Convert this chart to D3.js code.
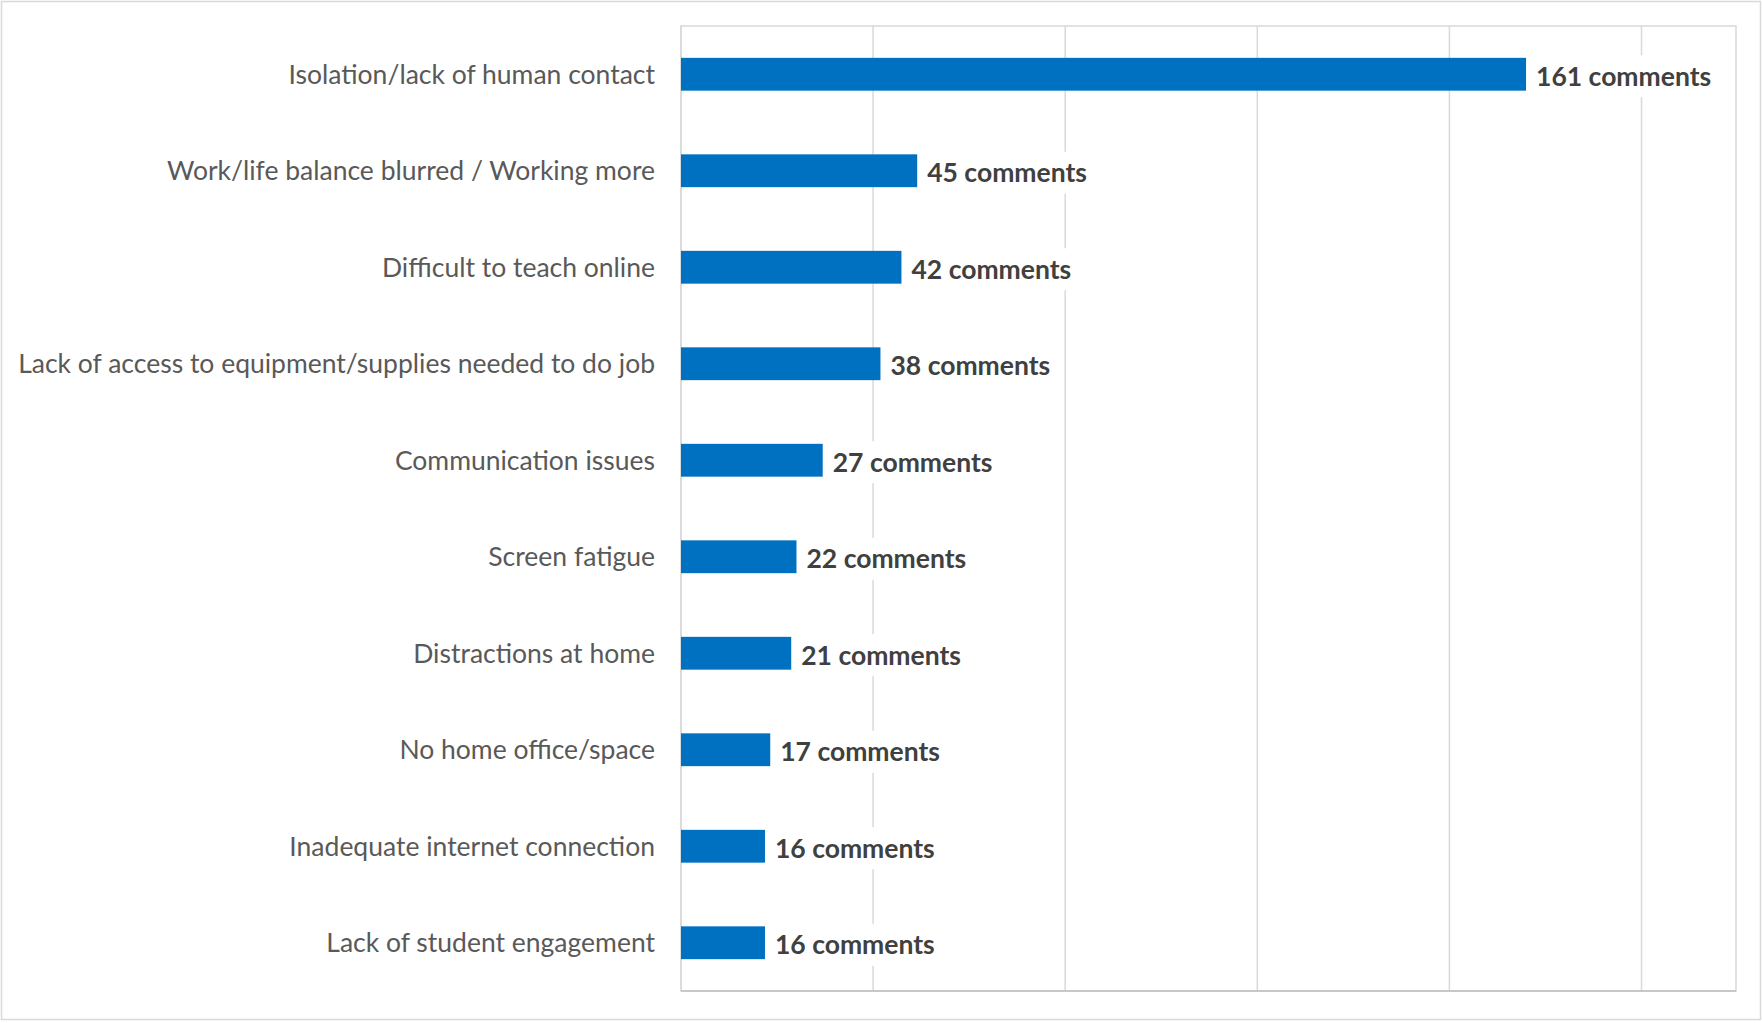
<!DOCTYPE html>
<html>
<head>
<meta charset="utf-8">
<script src="https://cdn.jsdelivr.net/npm/d3@7"></script>
<style>
  body { margin: 0; background: #fff; }
  #chart { width: 1762px; height: 1023px; }
  text { font-family: Lato, "Open Sans", sans-serif; }
</style>
</head>
<body>
<div id="chart"></div>
<script>
// categories, top to bottom
let categories = [
    "Isolation/lack of human contact",
    "Work/life balance blurred / Working more",
    "Difficult to teach online",
    "Lack of access to equipment/supplies needed to do job",
    "Communication issues",
    "Screen fatigue",
    "Distractions at home",
    "No home office/space",
    "Inadequate internet connection",
    "Lack of student engagement"
];
let comments = [161, 45, 42, 38, 27, 22, 21, 17, 16, 16];
// vertical gridlines (the chart shows them unlabeled)
let gridTicks = [0, 36.6, 73.2, 109.8, 146.4, 183];
let xMax = 201;

let width = 1762, height = 1023;
let margin = {top: 26, right: 26, bottom: 32, left: 681};
let innerW = width - margin.left - margin.right;
let innerH = height - margin.top - margin.bottom;

let svg = d3.select("#chart").append("svg")
    .attr("width", width)
    .attr("height", height);

// outer chart border
svg.append("rect")
    .attr("x", 1.5).attr("y", 1.5)
    .attr("width", width - 3).attr("height", height - 5)
    .attr("fill", "#fff")
    .attr("stroke", "#d9d9d9")
    .attr("stroke-width", 1.5);

let g = svg.append("g")
    .attr("transform", "translate(" + margin.left + "," + margin.top + ")");

let x = d3.scaleLinear().domain([0, xMax]).range([0, innerW]);
let y = d3.scaleBand().domain(categories).range([0, innerH])
    .paddingInner(0.66).paddingOuter(0.33);

// plot area frame
g.append("rect")
    .attr("width", innerW).attr("height", innerH)
    .attr("fill", "none")
    .attr("stroke", "#d9d9d9")
    .attr("stroke-width", 1.5);

// gridlines
g.selectAll(".grid")
    .data(gridTicks)
    .enter()
    .append("line")
    .attr("class", "grid")
    .attr("x1", d => x(d)).attr("x2", d => x(d))
    .attr("y1", 0).attr("y2", innerH)
    .attr("stroke", "#d9d9d9")
    .attr("stroke-width", 1.5);

// bottom axis line
g.append("line")
    .attr("x1", 0).attr("x2", innerW)
    .attr("y1", innerH).attr("y2", innerH)
    .attr("stroke", "#bfbfbf")
    .attr("stroke-width", 1.5);

let data = categories.map((c, i) => ({cat: c, value: comments[i]}));

// bars
g.selectAll(".bar")
    .data(data)
    .enter()
    .append("rect")
    .attr("class", "bar")
    .attr("x", 0)
    .attr("y", d => y(d.cat))
    .attr("width", d => x(d.value))
    .attr("height", y.bandwidth())
    .attr("fill", "#0070c0");

// category labels
g.selectAll(".cat")
    .data(data)
    .enter()
    .append("text")
    .attr("class", "cat")
    .attr("x", -26)
    .attr("y", d => y(d.cat) + y.bandwidth() / 2)
    .attr("dy", "0.36em")
    .attr("text-anchor", "end")
    .attr("font-size", 26.5)
    .attr("fill", "#595959")
    .text(d => d.cat);

// value labels with white box behind them
let lab = g.selectAll(".lab")
    .data(data)
    .enter()
    .append("g")
    .attr("class", "lab")
    .attr("transform", d => "translate(" + (x(d.value) + 10) + "," + (y(d.cat) + y.bandwidth() / 2 + 2) + ")");

lab.append("text")
    .attr("dy", "0.36em")
    .attr("font-size", 26.5)
    .attr("font-weight", "bold")
    .attr("fill", "#404040")
    .text(d => d.value + " comments");

lab.each(function () {
    let t = d3.select(this).select("text");
    let bb = t.node().getBBox();
    d3.select(this).insert("rect", "text")
        .attr("x", bb.x - 6)
        .attr("y", -21)
        .attr("width", bb.width + 10)
        .attr("height", 42)
        .attr("fill", "#fff");
});
</script>
</body>
</html>
